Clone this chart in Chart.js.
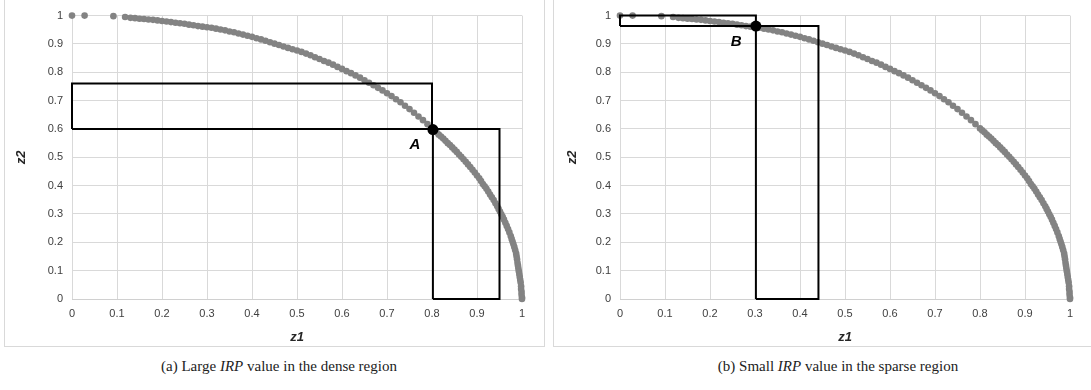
<!DOCTYPE html>
<html>
<head>
<meta charset="utf-8">
<script src="https://cdn.jsdelivr.net/npm/chart.js@4"></script>
<style>
  body { margin: 0; width: 1091px; height: 390px; background: #fff; overflow: hidden; position: relative; }
  .panel { position: absolute; top: -1px; height: 346px; border: 1px solid #d9d9d9; }
  #pa { left: 4px; width: 539px; }
  #pb { left: 553px; width: 540px; }
  canvas { display: block; }
  .cap { position: absolute; top: 358px; font: 15px "Liberation Serif", "DejaVu Serif", serif; color: #222;
         white-space: nowrap; transform: translateX(-50%); }
</style>
</head>
<body>

<div class="panel" id="pa"><canvas id="chartA" width="539" height="346"></canvas></div>
<div class="panel" id="pb"><canvas id="chartB" width="540" height="346"></canvas></div>

<div class="cap" style="left:279px">(a) Large <i>IRP</i> value in the dense region</div>
<div class="cap" style="left:838px">(b) Small <i>IRP</i> value in the sparse region</div>

<script>
/* ---------- Data ---------- */

// Pareto front points, z1 / z2 (same set in both panels)
const z1 = [
  0, 0.028, 0.092, 0.118,
  0.13, 0.14, 0.15, 0.16, 0.17, 0.18, 0.19, 0.20, 0.21, 0.22, 0.23, 0.24, 0.25, 0.26, 0.27, 0.28, 0.29,
  0.30, 0.31, 0.32, 0.33, 0.34, 0.35, 0.36, 0.37, 0.38, 0.39, 0.40, 0.41, 0.42, 0.43, 0.44, 0.45,
  0.46, 0.47, 0.48, 0.49, 0.50, 0.51, 0.52, 0.53, 0.54, 0.55, 0.56, 0.57, 0.58, 0.59, 0.60,
  0.61, 0.62, 0.63, 0.64, 0.65, 0.66, 0.67, 0.68, 0.69, 0.70, 0.71, 0.72, 0.73, 0.74, 0.75,
  0.76, 0.77, 0.78, 0.79, 0.80, 0.805, 0.81, 0.815, 0.82, 0.825, 0.83, 0.835, 0.84, 0.845,
  0.85, 0.855, 0.86, 0.865, 0.87, 0.875, 0.88, 0.885, 0.89, 0.895, 0.90,
  0.905, 0.909, 0.913, 0.917, 0.921, 0.925, 0.929, 0.933, 0.937, 0.941, 0.945, 0.948, 0.951,
  0.954, 0.957, 0.960, 0.963, 0.966, 0.969, 0.972, 0.975, 0.977, 0.979, 0.981, 0.983, 0.985,
  0.987, 0.988, 0.989, 0.990, 0.991, 0.992, 0.993, 0.994, 0.995, 0.996, 0.997, 0.998, 0.998,
  0.999, 0.999, 1.0, 1.0
];
const z2 = [
  1, 1, 0.998, 0.995,
  0.992, 0.991, 0.989, 0.988, 0.986, 0.985, 0.983, 0.981, 0.979, 0.977, 0.975, 0.973, 0.971, 0.968, 0.966, 0.963, 0.961,
  0.959, 0.957, 0.954, 0.951, 0.948, 0.944, 0.941, 0.937, 0.933, 0.929, 0.925, 0.920, 0.916, 0.911, 0.906, 0.901,
  0.896, 0.891, 0.886, 0.881, 0.877, 0.872, 0.866, 0.860, 0.853, 0.847, 0.840, 0.834, 0.827, 0.819, 0.812,
  0.804, 0.797, 0.789, 0.781, 0.772, 0.763, 0.754, 0.745, 0.736, 0.726, 0.716, 0.705, 0.694, 0.682, 0.670,
  0.657, 0.644, 0.631, 0.617, 0.602, 0.595, 0.588, 0.580, 0.573, 0.566, 0.558, 0.550, 0.543, 0.535,
  0.527, 0.519, 0.510, 0.502, 0.493, 0.484, 0.475, 0.466, 0.456, 0.446, 0.436,
  0.426, 0.416, 0.406, 0.398, 0.389, 0.379, 0.369, 0.359, 0.349, 0.338, 0.327, 0.318, 0.309,
  0.299, 0.290, 0.280, 0.269, 0.258, 0.247, 0.235, 0.222, 0.212, 0.203, 0.193, 0.183, 0.172,
  0.160, 0.150, 0.140, 0.128, 0.118, 0.108, 0.098, 0.088, 0.078, 0.068, 0.058, 0.045, 0.035,
  0.025, 0.015, 0.005, 0
];

// panel (a): two boxes around A
const boxA1x = [0, 0.8, 0.8, 0, 0];
const boxA1y = [0.6, 0.6, 0.76, 0.76, 0.6];
const boxA2x = [0.802, 0.95, 0.95, 0.802, 0.802];
const boxA2y = [0, 0, 0.6, 0.6, 0];
const pointA = [0.802, 0.598];
const labelA = [0.762, 0.543];

// panel (b): two boxes around B
const boxB1x = [0, 0.302, 0.302, 0, 0];
const boxB1y = [0.963, 0.963, 1.0, 1.0, 0.963];
const boxB2x = [0.302, 0.441, 0.441, 0.302, 0.302];
const boxB2y = [0, 0, 0.963, 0.963, 0];
const pointB = [0.302, 0.963];
const labelB = [0.258, 0.906];

/* ---------- Helpers ---------- */

const zip = (xs, ys) => xs.map((x, i) => ({ x, y: ys[i] }));
const fmt = v => String(Number(v.toFixed(1)));

const TICK_FONT = { family: '"Liberation Sans", Arial, sans-serif', size: 11 };
const TITLE_FONT = { family: '"Liberation Sans", Arial, sans-serif', size: 13, weight: 'bold', style: 'italic' };

const pointLabel = {
  id: 'pointLabel',
  afterDatasetsDraw(chart, args, opts) {
    const { ctx, scales: { x, y } } = chart;
    ctx.save();
    ctx.font = 'italic bold 15px "Liberation Sans", Arial, sans-serif';
    ctx.fillStyle = '#000';
    ctx.textAlign = 'center';
    ctx.textBaseline = 'middle';
    ctx.fillText(opts.text, x.getPixelForValue(opts.at[0]), y.getPixelForValue(opts.at[1]));
    ctx.restore();
  }
};

function box(xs, ys) {
  return {
    data: zip(xs, ys),
    showLine: true,
    borderColor: '#000',
    borderWidth: 2,
    pointRadius: 0,
    clip: false,
    order: 1
  };
}

function makeChart(id, boxes, marker, label, yAxisW, padRight, yTitlePad) {
  return new Chart(document.getElementById(id), {
    type: 'scatter',
    data: {
      datasets: [
        {
          data: [{ x: marker[0], y: marker[1] }],
          backgroundColor: '#000',
          borderWidth: 0,
          pointRadius: 5.5,
          clip: false,
          order: 0
        },
        ...boxes,
        {
          data: zip(z1, z2),
          backgroundColor: '#838383',
          borderWidth: 0,
          pointRadius: 3.3,
          clip: false,
          order: 2
        }
      ]
    },
    options: {
      responsive: false,
      animation: false,
      layout: { padding: { top: 12, right: padRight, left: 0, bottom: 0 } },
      plugins: {
        legend: { display: false },
        tooltip: { enabled: false },
        pointLabel: { text: label.text, at: label.at }
      },
      scales: {
        x: {
          min: 0, max: 1,
          grid: { color: '#d9d9d9', drawTicks: false },
          border: { color: '#d0d0d0' },
          ticks: { stepSize: 0.1, padding: 8, color: '#404040', font: TICK_FONT, maxRotation: 0, callback: fmt },
          title: { display: true, text: 'z1', color: '#262626', font: TITLE_FONT, padding: { top: 0, bottom: 1 } },
          afterFit: s => { s.height = 47; }
        },
        y: {
          min: 0, max: 1,
          grid: { color: '#d9d9d9', drawTicks: false },
          border: { display: false },
          ticks: { stepSize: 0.1, padding: 9, color: '#404040', font: TICK_FONT, callback: fmt },
          title: { display: true, text: 'z2', color: '#262626', font: TITLE_FONT, padding: { top: yTitlePad, bottom: 0 } },
          afterFit: s => { s.width = yAxisW; }
        }
      }
    },
    plugins: [pointLabel]
  });
}

/* ---------- Charts ---------- */

makeChart('chartA',
  [box(boxA1x, boxA1y), box(boxA2x, boxA2y)],
  pointA, { text: 'A', at: labelA }, 67, 22, 9);

makeChart('chartB',
  [box(boxB1x, boxB1y), box(boxB2x, boxB2y)],
  pointB, { text: 'B', at: labelB }, 66, 24, 11);
</script>
</body>
</html>
